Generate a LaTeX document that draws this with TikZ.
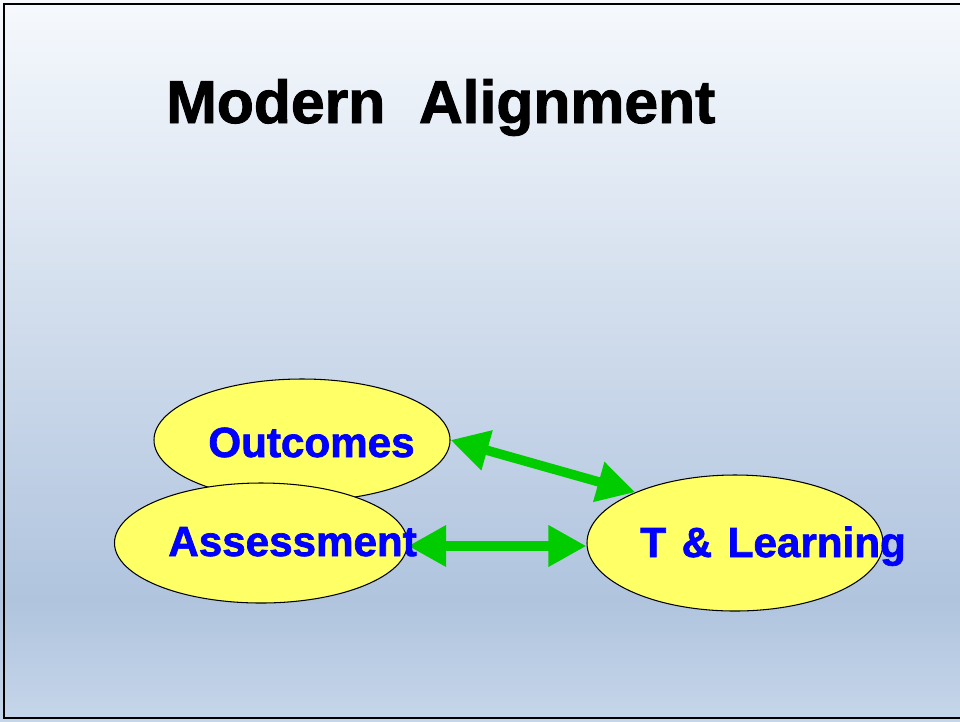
\documentclass[tikz,border=0pt]{standalone}
\usepackage{fontspec}
\setmainfont{Liberation Sans}
\newfontfamily\heavyfont[FakeBold=1.6]{Liberation Sans Bold}
\usetikzlibrary{arrows.meta,shapes.geometric}
\definecolor{SlideTop}{RGB}{246, 249, 253}
\definecolor{SlideMid}{RGB}{176, 196, 222}
\definecolor{SlideLow}{RGB}{198, 214, 234}
\definecolor{PadYellow}{RGB}{255, 255, 102}
\definecolor{LinkGreen}{RGB}{0, 204, 0}

\begin{document}
\begin{tikzpicture}[
                oval/.style={ellipse, draw=black, line width=0.6pt, fill=PadYellow, inner sep=0pt},
                lbl/.style={anchor=base west, inner sep=0pt, text=blue, font=\fontsize{24}{28}\selectfont\heavyfont},
                link/.style={{Triangle[length=0.76cm, width=0.78cm]}-{Triangle[length=0.76cm, width=0.78cm]}, line width=5.4pt, LinkGreen}
            ]
                \useasboundingbox (0,0) rectangle (19.2,-14.42);
                \clip (0,0) rectangle (19.2,-14.42);

                % Slide background
                \shade[top color=SlideTop, bottom color=SlideMid] (0,0) rectangle (19.2,-12.0);
                \shade[top color=SlideMid, bottom color=SlideLow] (0,-12.0) rectangle (19.2,-14.42);
                \draw[line width=1.4pt] (0.08,-0.08) rectangle (19.6,-14.36);

                % Title
                \node[anchor=base west, inner sep=0pt, font=\fontsize{34.5}{40}\selectfont\heavyfont] (title) at (3.32,-2.46) {Modern\ \ Alignment};

                % Ellipses
                \node[oval, minimum width=5.92cm, minimum height=2.44cm] (out) at (6.04,-8.80) {};
                \node[oval, minimum width=5.86cm, minimum height=2.40cm] (ass) at (5.22,-10.86) {};
                \node[oval, minimum width=5.92cm, minimum height=2.72cm] (tl) at (14.70,-10.86) {};

                % Links (green double arrows)
                \draw[link] (out.east) -- (tl.153);
                \draw[link] ([yshift=-0.06cm]ass.east) -- ([yshift=-0.06cm]tl.west);

                % Labels
                \node[lbl] (outtxt) at (4.16,-9.14) {Outcomes};
                \node[lbl] (asstxt) at (3.36,-11.12) {Assessment};
                \node[lbl] (tltxt) at (12.80,-11.14) {T\hspace{0.37em}\&\hspace{0.37em}Learning};
            \end{tikzpicture}
\end{document}
